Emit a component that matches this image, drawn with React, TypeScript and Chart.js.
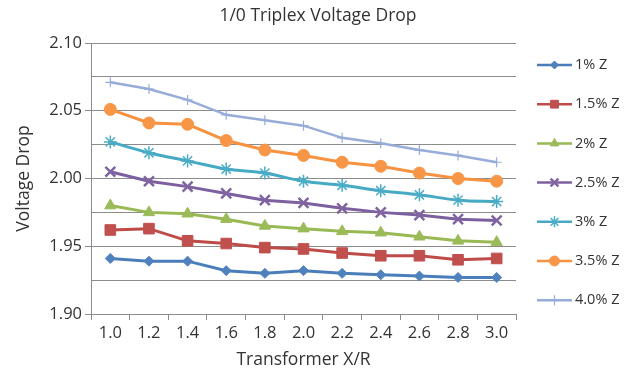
import React, { useEffect, useRef } from "react";
import { Chart, registerables } from "chart.js";
import { drawPoint } from "chart.js/helpers";

Chart.register(...registerables);

const title = "1/0 Triplex Voltage Drop";
const xTitle = "Transformer X/R";
const yTitle = "Voltage Drop";
const categories = ["1.0", "1.2", "1.4", "1.6", "1.8", "2.0", "2.2", "2.4", "2.6", "2.8", "3.0"];

const z1 = [1.941, 1.939, 1.939, 1.932, 1.930, 1.932, 1.930, 1.929, 1.928, 1.927, 1.927];
const z15 = [1.962, 1.963, 1.954, 1.952, 1.949, 1.948, 1.945, 1.943, 1.943, 1.940, 1.941];
const z2 = [1.980, 1.975, 1.974, 1.970, 1.965, 1.963, 1.961, 1.960, 1.957, 1.954, 1.953];
const z25 = [2.005, 1.998, 1.994, 1.989, 1.984, 1.982, 1.978, 1.975, 1.973, 1.970, 1.969];
const z3 = [2.027, 2.019, 2.013, 2.007, 2.004, 1.998, 1.995, 1.991, 1.988, 1.984, 1.983];
const z35 = [2.051, 2.041, 2.040, 2.028, 2.021, 2.017, 2.012, 2.009, 2.004, 2.000, 1.998];
const z4 = [2.071, 2.066, 2.058, 2.047, 2.043, 2.039, 2.030, 2.026, 2.021, 2.017, 2.012];

const seriesLabels = ["1% Z", "1.5% Z", "2% Z", "2.5% Z", "3% Z", "3.5% Z", "4.0% Z"];
const seriesData = [z1, z15, z2, z25, z3, z35, z4];
const lineColors = ["#4A7EBB", "#BE4B48", "#98B954", "#7D60A0", "#46AAC5", "#F69240", "#97ACD8"];
const markerColors = ["#4F81BD", "#C0504D", "#9BBB59", "#8064A2", "#4BACC6", "#F79646", "#97ACD8"];
const markerStyles = ["rectRot", "rect", "triangle", "crossRot", "star", "circle", "cross"];
const markerRadii = [5, 7.5, 6.5, 7, 6.5, 6, 5];
const legendRadii = [4, 5.5, 5, 5.5, 5.5, 5, 5];

const FONT = "'Open Sans', sans-serif";
const TEXT = "#333333";

const overlayPlugin = {
  id: "overlay",
  afterDraw(chart: any) {
    const ctx = chart.ctx;
    ctx.save();
    ctx.fillStyle = TEXT;
    ctx.font = `17.5px ${FONT}`;
    ctx.textAlign = "center";
    ctx.textBaseline = "middle";
    ctx.fillText(title, 318, 16);

    chart.data.datasets.forEach((ds: any, i: number) => {
      const y = 65 + i * 39.2;
      ctx.strokeStyle = ds.borderColor;
      ctx.lineWidth = 2.5;
      ctx.beginPath();
      ctx.moveTo(537, y);
      ctx.lineTo(572, y);
      ctx.stroke();
      ctx.fillStyle = ds.pointBackgroundColor;
      ctx.strokeStyle = ds.pointBorderColor;
      ctx.lineWidth = ds.pointBorderWidth;
      drawPoint(ctx, { pointStyle: ds.pointStyle, radius: legendRadii[i], rotation: 0, borderWidth: ds.pointBorderWidth } as any, 554.5, y);
      ctx.fillStyle = TEXT;
      ctx.font = `14.5px ${FONT}`;
      ctx.textAlign = "left";
      ctx.textBaseline = "middle";
      ctx.fillText(ds.label, 575, y);
    });
    ctx.restore();
  },
};

export default function App() {
  const ref = useRef<HTMLCanvasElement>(null);
  useEffect(() => {
    if (!ref.current) return;
    const chart = new Chart(ref.current, {
      type: "line",
      data: {
        labels: categories,
        datasets: seriesData.map((d, i) => ({
          label: seriesLabels[i],
          data: d,
          borderColor: lineColors[i],
          backgroundColor: markerColors[i],
          borderWidth: i === 6 ? 2.5 : 3,
          pointStyle: markerStyles[i] as any,
          pointRadius: markerRadii[i],
          pointBackgroundColor: markerColors[i],
          pointBorderColor: markerColors[i],
          pointBorderWidth: markerStyles[i] === "crossRot" ? 2.5 : markerStyles[i] === "star" ? 1.5 : markerStyles[i] === "cross" ? 1.2 : 1,
          tension: i === 4 ? 0.3 : 0,
          cubicInterpolationMode: i === 4 ? "monotone" : "default",
          fill: false,
        })),
      },
      options: {
        animation: false,
        responsive: false,
        maintainAspectRatio: false,
        layout: { padding: { top: 43, right: 122, left: 0, bottom: 0 } },
        plugins: { legend: { display: false }, title: { display: false }, tooltip: { enabled: false } },
        scales: {
          x: {
            type: "category",
            offset: true,
            afterFit: (s: any) => { s.height = 59; },
            grid: {
              offset: true,
              drawOnChartArea: false,
              drawTicks: true,
              tickLength: 6,
              tickColor: "#8c8c8c",
              lineWidth: 1,
            },
            border: { display: true, color: "#8c8c8c", width: 1 },
            ticks: { color: TEXT, font: { family: FONT, size: 16.5 }, padding: 3, maxRotation: 0, autoSkip: false },
            title: { display: true, text: xTitle, color: TEXT, font: { family: FONT, size: 17.5 }, padding: { top: 0, bottom: 2.5 } },
          },
          y: {
            min: 1.9,
            max: 2.1,
            afterFit: (s: any) => { s.width = 91; },
            ticks: {
              stepSize: 0.025,
              color: TEXT,
              font: { family: FONT, size: 16.5 },
              padding: 3,
              autoSkip: false,
              callback: (v: any, idx: number) => (idx % 2 === 0 ? Number(v).toFixed(2) : ""),
            },
            grid: {
              color: "#8c8c8c",
              lineWidth: 1,
              drawTicks: true,
              tickLength: 6,
              tickColor: (c: any) => (c.index % 2 === 0 ? "#8c8c8c" : "rgba(0,0,0,0)"),
            },
            border: { display: true, color: "#8c8c8c", width: 1 },
            title: { display: true, text: yTitle, color: TEXT, font: { family: FONT, size: 17.5 }, padding: { top: 13.5, bottom: 0 } },
          },
        },
      },
      plugins: [overlayPlugin],
    });
    return () => chart.destroy();
  }, []);
  return (
    <div style={{ position: "fixed", left: 0, top: 0, width: 638, height: 373, background: "#fff" }}>
      <canvas ref={ref} width={638} height={373} style={{ width: 638, height: 373, display: "block" }} />
    </div>
  );
}
